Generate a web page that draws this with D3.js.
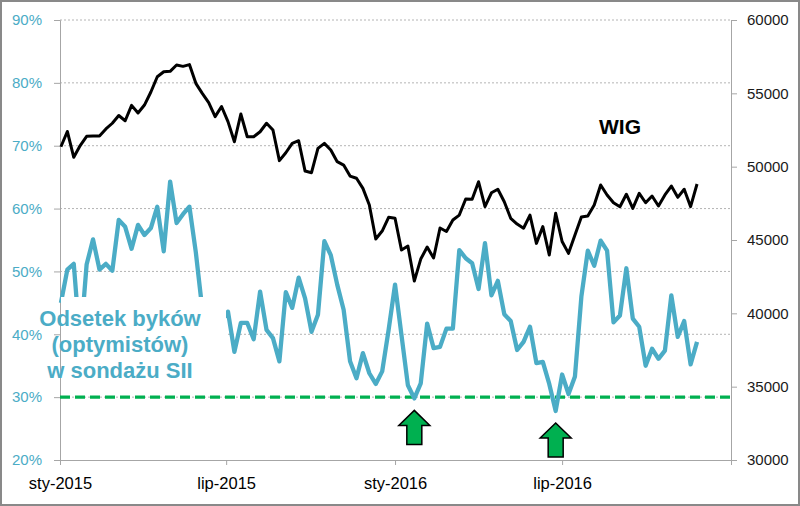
<!DOCTYPE html>
<html><head><meta charset="utf-8">
<script src="https://cdn.jsdelivr.net/npm/d3@7"></script>
<style>body{margin:0;background:#fff}svg{display:block}</style>
</head><body><svg id="c" width="800" height="506"></svg>
<script>
// WIG index, weekly
const wig = [51360,52400,50640,51440,52070,52090,52090,52570,52960,53490,
53130,54180,53660,54200,55090,56130,56470,56500,56930,56840,
56960,55680,55000,54370,53410,54100,53070,51700,53590,52040,
52040,52380,52960,52500,50410,50950,51590,51770,49700,49590,
51250,51590,51140,50340,50110,49360,49210,48520,47390,45070,
45610,46550,46480,44320,44590,42200,43700,44520,43770,45820,
45580,46360,46700,47800,47780,48970,47270,48220,48460,47610,
46480,46090,45800,46700,44770,45910,43980,46820,44900,44090,
45340,46570,46640,47390,48750,48070,47540,47270,48120,47160,
48180,47540,48000,47320,48070,48680,47910,48460,47270,48820];
// Share of bulls in SII survey (%), weekly
const bulls = [45,50.3,51.2,38.3,51.1,55.1,50.3,51.2,50.1,58.2,
57.1,53.6,57.4,55.8,56.9,60.3,53.2,64.3,57.7,59.1,
60.3,53,44,40,38,42,43.6,37.2,41.8,41.8,
39.2,46.8,40.7,39.4,35.7,46.7,44.2,49.0,45.7,40.4,
43.1,54.8,52.6,47.9,43.9,35.7,33.0,37.0,33.8,32.1,
34.1,40.7,47.9,39.9,31.9,29.8,32.2,41.7,37.8,38.0,
40.9,40.9,53.4,52.1,51.3,47.2,54.5,46.2,48.5,43.2,
42.1,37.5,38.8,41.2,35.4,35.6,32.1,27.8,33.6,30.5,
33.3,46.0,53.3,50.9,54.9,53.3,41.9,43.0,50.5,42.5,
41.2,35.0,37.7,36.1,37.4,46.2,39.6,42.1,35.2,38.8];
const startDate = new Date(2015,0,2);
const dates = wig.map((_, i) => d3.timeDay.offset(startDate, 7*i));
const leftTicks = [20,30,40,50,60,70,80,90];
const rightTicks = [30000,35000,40000,45000,50000,55000,60000];
const xTickDates = [new Date(2015,0,1), new Date(2015,6,1), new Date(2016,0,1), new Date(2016,6,1)];
const xTickLabels = ["sty-2015","lip-2015","sty-2016","lip-2016"];
const threshold = 30;
const arrowIdx = [55, 77];
const labelLines = ["Odsetek byków","(optymistów)","w sondażu SII"];

const TEAL = "#4bacc6", GREEN = "#00b050", AX = "#a6a6a6";
const svg = d3.select("#c");
const L = 60, R = 731, T = 20, B = 460;
const x = d3.scaleTime().domain([new Date(2015,0,1), new Date(2017,0,1)]).range([L, R]);
const yL = d3.scaleLinear().domain([20,90]).range([B, T]);
const yR = d3.scaleLinear().domain([30000,60000]).range([B, T]);

svg.append("rect").attr("x",1).attr("y",1).attr("width",798).attr("height",504)
  .attr("fill","#fff").attr("stroke","#898989").attr("stroke-width",2);

// gridlines
svg.append("g").selectAll("line").data(leftTicks.slice(1)).join("line")
  .attr("x1",L).attr("x2",R).attr("y1",d=>yL(d)).attr("y2",d=>yL(d))
  .attr("stroke","#b4b4b4").attr("stroke-width",1).attr("stroke-dasharray","2,2");

const fontNum = "'Liberation Sans', Arial, sans-serif";
// left axis
const gl = svg.append("g").attr("transform",`translate(${L},0)`)
  .call(d3.axisLeft(yL).tickValues(leftTicks).tickFormat(d=>d+"%").tickSizeOuter(0).tickSize(6).tickPadding(12));
gl.selectAll("path,line").attr("stroke",AX);
gl.selectAll("text").attr("fill",TEAL).style("font-family",fontNum).style("font-size","15px");
// right axis
const gr = svg.append("g").attr("transform",`translate(${R},0)`)
  .call(d3.axisRight(yR).tickValues(rightTicks).tickFormat(d=>d).tickSizeOuter(0).tickSize(6).tickPadding(10));
gr.selectAll("path,line").attr("stroke",AX);
gr.selectAll("text").attr("fill","#1a1a1a").style("font-family",fontNum).style("font-size","15px");
// bottom axis
const gb = svg.append("g").attr("transform",`translate(0,${B})`)
  .call(d3.axisBottom(x).tickValues(xTickDates).tickFormat((d,i)=>xTickLabels[i]).tickSizeOuter(0).tickSize(5).tickPadding(12));
gb.selectAll("path,line").attr("stroke",AX);
gb.selectAll("text").attr("fill","#000").style("font-family",fontNum).style("font-size","16.5px");

// threshold line
svg.append("line").attr("x1",L).attr("x2",R).attr("y1",yL(threshold)).attr("y2",yL(threshold))
  .attr("stroke",GREEN).attr("stroke-width",3.3).attr("stroke-dasharray","10,5");

// lines
const lineW = d3.line().x((d,i)=>x(dates[i])).y(d=>yR(d));
const lineB = d3.line().x((d,i)=>x(dates[i])).y(d=>yL(d));
svg.append("path").datum(bulls).attr("d",lineB).attr("fill","none")
  .attr("stroke",TEAL).attr("stroke-width",4.3).attr("stroke-linejoin","round");
svg.append("path").datum(wig).attr("d",lineW).attr("fill","none")
  .attr("stroke","#000").attr("stroke-width",3).attr("stroke-linejoin","round");

// label box (white fill covers lines)
svg.append("rect").attr("x",61).attr("y",297).attr("width",165).attr("height",92).attr("fill","#fff");
svg.append("g").selectAll("text").data(labelLines).join("text")
  .attr("x",120).attr("y",(d,i)=>318+i*26).attr("dy","0.35em").attr("text-anchor","middle")
  .attr("fill",TEAL).style("font-family",fontNum).style("font-weight","bold").style("font-size","22px")
  .text(d=>d);

svg.append("text").attr("x",620).attr("y",127).attr("dy","0.35em").attr("text-anchor","middle")
  .style("font-family",fontNum).style("font-weight","bold").style("font-size","21px").attr("fill","#000").text("WIG");

// arrows
const arrow = (cx, top) => {
  const hw = 15.5, sw = 7.5, hh = 15, h = 34;
  return `M${cx},${top} L${cx+hw},${top+hh} L${cx+sw},${top+hh} L${cx+sw},${top+h} L${cx-sw},${top+h} L${cx-sw},${top+hh} L${cx-hw},${top+hh} Z`;
};
svg.append("g").selectAll("path").data(arrowIdx).join("path")
  .attr("d",i=>arrow(x(dates[i]), yL(bulls[i])+12))
  .attr("fill",GREEN).attr("stroke","#000").attr("stroke-width",1.5).attr("stroke-linejoin","miter");
</script></body></html>
